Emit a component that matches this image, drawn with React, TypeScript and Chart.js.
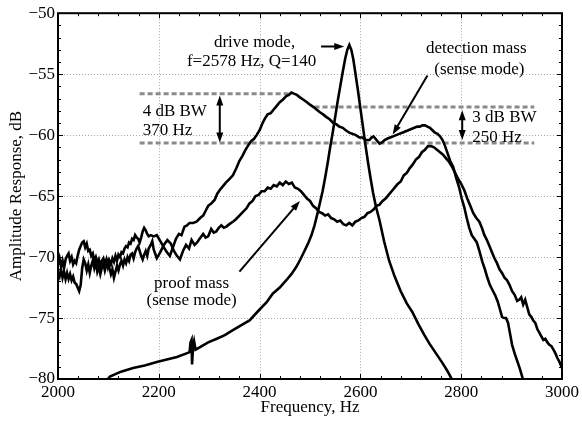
import React, { useEffect, useRef } from "react";
import { Chart, registerables } from "chart.js";
Chart.register(...registerables);

const xTicks = [2000, 2200, 2400, 2600, 2800, 3000];
const yTicks = [-80, -75, -70, -65, -60, -55, -50];

const driveFreq = [2095, 2103, 2125, 2149, 2172, 2196, 2216, 2236, 2255, 2261, 2263, 2265, 2266, 2268, 2270, 2273, 2281, 2298, 2315, 2331, 2347, 2363, 2380, 2400, 2414, 2426, 2440, 2453, 2463, 2473, 2482, 2489, 2496, 2503, 2509, 2515, 2520, 2525, 2530, 2535, 2540, 2545, 2550, 2555, 2560, 2565, 2570, 2574, 2578, 2582, 2586, 2590, 2595, 2600, 2605, 2610, 2615, 2620, 2625, 2631, 2638, 2647, 2657, 2668, 2680, 2692, 2703, 2715, 2727, 2737, 2750, 2763, 2772, 2784];
const driveDb = [-80.2, -79.8, -79.4, -79.1, -78.9, -78.6, -78.4, -78.2, -77.9, -77.8, -77.0, -76.8, -78.8, -77.3, -76.9, -77.6, -77.4, -77.0, -76.7, -76.4, -76.0, -75.6, -75.2, -74.3, -73.7, -73.0, -72.5, -71.9, -71.4, -70.8, -70.1, -69.5, -68.9, -68.2, -67.4, -66.4, -65.5, -64.6, -63.5, -62.3, -61.0, -59.8, -58.5, -57.2, -56.0, -54.8, -53.7, -53.0, -52.6, -53.0, -53.8, -54.9, -56.3, -57.8, -59.3, -60.8, -62.2, -63.5, -64.7, -65.9, -67.0, -68.7, -70.3, -71.6, -72.8, -73.8, -74.5, -75.5, -76.4, -77.1, -77.9, -78.7, -79.3, -80.2];

const detFreq = [2000, 2003, 2006, 2009, 2012, 2015, 2018, 2021, 2024, 2027, 2030, 2033, 2036, 2039, 2042, 2045, 2048, 2051, 2054, 2057, 2060, 2063, 2066, 2069, 2072, 2075, 2078, 2081, 2084, 2087, 2090, 2093, 2096, 2099, 2102, 2105, 2108, 2111, 2114, 2117, 2120, 2123, 2126, 2129, 2132, 2135, 2138, 2141, 2144, 2147, 2150, 2153, 2156, 2159, 2162, 2165, 2168, 2171, 2174, 2177, 2180,
  2184, 2190, 2196, 2203, 2210, 2216, 2222, 2228, 2234, 2240, 2245, 2251, 2256, 2261, 2268, 2275, 2282, 2288, 2293, 2298, 2304, 2311, 2316, 2321, 2327, 2333, 2340, 2347, 2354, 2360, 2366, 2372, 2378, 2383, 2389, 2394, 2400,
  2406, 2411, 2416, 2422, 2428, 2434, 2440, 2446, 2453, 2458, 2463, 2468, 2474, 2480, 2487, 2494, 2500, 2507, 2513, 2519, 2526, 2532, 2539, 2546, 2552, 2558, 2565, 2571, 2578, 2585, 2591, 2598, 2604, 2611, 2618,
  2622, 2626, 2630, 2634, 2638, 2643, 2648, 2653, 2659,
  2665, 2671, 2677, 2683, 2689, 2695, 2701, 2707, 2713,
  2718, 2723, 2728, 2733, 2738, 2743, 2748, 2753, 2758, 2763, 2768, 2773, 2778,
  2784, 2790, 2796, 2801, 2806, 2811, 2816, 2821, 2826, 2831, 2836,
  2842, 2847, 2852, 2857, 2862, 2867, 2872, 2877,
  2881, 2885, 2889, 2893, 2897, 2901, 2906, 2911, 2916, 2921, 2925];
const detDb = [-70.6, -70.1, -70.8, -70.3, -70.9, -70.2, -69.9, -69.7, -70.3, -70.0, -70.6, -70.3, -70.5, -69.9, -69.4, -69.1, -68.8, -68.7, -69.2, -68.9, -69.5, -69.4, -69.9, -69.7, -70.3, -70.0, -70.5, -70.2, -70.7, -70.3, -70.1, -70.6, -70.2, -70.8, -70.3, -70.6, -70.1, -70.4, -69.9, -70.3, -69.8, -70.0, -69.6, -69.7, -69.3, -69.1, -69.2, -68.8, -68.9, -68.5, -68.6, -68.2, -68.4, -68.5, -68.8, -68.4, -67.9, -67.6, -67.8, -68.1, -68.3,
  -68.2, -68.3, -68.2, -68.7, -69.2, -69.6, -69.9, -69.2, -68.5, -68.1, -68.2, -67.5, -67.4, -67.2, -67.2, -67.1, -66.8, -66.6, -66.2, -65.8, -65.6, -65.3, -64.8, -64.5, -64.2, -63.9, -63.6, -63.3, -62.7, -62.1, -61.7, -61.2, -60.8, -60.5, -60.3, -60.0, -59.6,
  -59.0, -58.6, -58.3, -58.2, -57.9, -57.6, -57.3, -57.1, -56.8, -56.7, -56.5, -56.6, -56.7, -56.9, -57.1, -57.3, -57.5, -57.7, -57.9, -58.1, -58.3, -58.5, -58.7, -59.0, -59.1, -59.3, -59.4, -59.6, -59.8, -59.9, -60.0, -60.2, -60.2, -60.4, -60.4,
  -60.2, -60.1, -60.3, -60.5, -60.7, -60.6, -60.4, -60.3, -60.2,
  -60.1, -60.0, -59.9, -59.8, -59.7, -59.6, -59.5, -59.4, -59.3,
  -59.3, -59.2, -59.2, -59.3, -59.4, -59.6, -59.8, -59.9, -60.1, -60.4, -60.9, -61.5, -62.1,
  -62.6, -63.5, -64.3, -65.2, -65.9, -66.8, -67.6, -68.2, -68.5, -68.8, -69.5,
  -70.4, -71.0, -71.7, -72.3, -72.7, -73.1, -73.6, -74.3,
  -74.9, -75.0, -75.0, -75.4, -76.3, -77.2, -77.9, -78.5, -79.1, -79.8, -80.3];

const proofFreq = [2000, 2003, 2006, 2009, 2012, 2015, 2018, 2021, 2024, 2027, 2030, 2033, 2036, 2039, 2042, 2045, 2048, 2051, 2054, 2057, 2060, 2063, 2066, 2069, 2072, 2075, 2078, 2081, 2084, 2087, 2090, 2093, 2096, 2099, 2102, 2105, 2108, 2111, 2114, 2117, 2120, 2123, 2126, 2129, 2132, 2135, 2138, 2141, 2144, 2147, 2150, 2153, 2156, 2159, 2162, 2165, 2168, 2171, 2174, 2177, 2180, 2184, 2187, 2190,
  2196, 2203, 2210, 2217, 2224, 2230, 2236, 2242, 2248, 2254, 2260, 2265, 2271, 2276, 2281, 2288, 2293, 2298, 2304, 2309, 2314, 2319, 2324, 2329, 2334, 2340, 2347, 2353, 2360, 2367, 2374, 2380,
  2386, 2392, 2398, 2404, 2410, 2416, 2422, 2428, 2434, 2440, 2446, 2452, 2458, 2464, 2470, 2476, 2482, 2488, 2494, 2500, 2506, 2512, 2518, 2524, 2530, 2536, 2542, 2548, 2554, 2560, 2566, 2572, 2578, 2584, 2590, 2596, 2602, 2608, 2614, 2620, 2626, 2632, 2638, 2644, 2650, 2656, 2662, 2668, 2674, 2680, 2686, 2692, 2698, 2704, 2710, 2716, 2722, 2728, 2734, 2740, 2746, 2752, 2758, 2764, 2770, 2776, 2782, 2788, 2794, 2800, 2806, 2812, 2818, 2824, 2830, 2836,
  2841, 2846, 2851, 2856, 2861, 2866, 2871, 2876, 2881, 2886, 2891, 2896, 2901, 2906, 2911,
  2915, 2919, 2923, 2927, 2931, 2935, 2939, 2943, 2947, 2951, 2955, 2959, 2963, 2967, 2971, 2975, 2979, 2983, 2987, 2991, 2995, 3000];
const proofDb = [-71.3, -71.6, -71.0, -71.7, -71.2, -71.8, -71.3, -71.8, -71.4, -71.9, -71.6, -72.1, -72.2, -72.5, -72.8, -72.3, -70.9, -70.2, -70.5, -71.1, -70.6, -71.3, -70.7, -70.3, -70.9, -70.4, -71.2, -70.8, -71.4, -70.9, -70.5, -71.1, -70.6, -70.3, -70.9, -71.4, -71.0, -71.7, -71.2, -70.7, -71.1, -70.6, -70.3, -70.7, -70.2, -70.5, -70.0, -70.3, -69.8, -69.7, -70.1, -69.6, -69.3, -69.1, -69.5, -69.9, -70.2, -69.8, -69.5, -69.9, -69.3, -69.0, -68.7, -69.4,
  -70.1, -69.6, -69.0, -68.6, -68.9, -69.5, -69.9, -70.2, -69.5, -69.0, -69.3, -68.6, -69.0, -68.8, -68.5, -68.1, -68.4, -68.3, -67.7, -68.0, -67.9, -67.6, -67.4, -67.6, -67.5, -67.3, -67.1, -66.9, -66.6, -66.3, -66.0, -65.6,
  -65.4, -65.0, -64.9, -64.6, -64.6, -64.3, -64.4, -64.1, -64.2, -63.9, -64.1, -63.8, -64.0, -63.9, -64.3, -64.4, -64.6, -64.9, -65.2, -65.4, -65.8, -66.0, -66.3, -66.4, -66.6, -66.5, -66.8, -66.9, -67.1, -67.0, -67.3, -67.4, -67.2, -67.4, -67.1, -67.0, -66.8, -66.7, -66.4, -66.3, -66.1, -65.8, -65.7, -65.4, -65.2, -64.9, -64.6, -64.3, -64.0, -63.8, -63.3, -63.1, -62.7, -62.4, -62.0, -61.8, -61.4, -61.2, -60.9, -60.9, -61.0, -61.2, -61.4, -61.6, -61.9, -62.2, -62.6, -63.1, -63.6, -64.0, -64.5, -65.2, -65.8, -66.4, -66.8, -67.1,
  -67.6, -68.2, -68.6, -69.1, -69.6, -70.1, -70.5, -71.0, -71.3, -71.7, -71.9, -72.3, -72.8, -73.1, -73.6,
  -73.5, -73.3, -73.9, -73.5, -74.1, -74.7, -74.9, -75.2, -75.4, -75.9, -76.2, -76.5, -76.8, -76.7, -77.0, -77.2, -77.3, -77.6, -77.9, -78.3, -78.6, -79.1];

// annotation geometry, in data units [f1, f2, dB]
const bwLines = [
  [2162, 2463, -56.6],
  [2162, 2945, -60.65],
  [2509, 2945, -57.7],
];
// arrows [fFrom, dbFrom, fTo, dbTo, doubleHeaded]
const arrows = [
  [2522, -52.73, 2568, -52.73, 0],
  [2733, -55.1, 2664, -59.95, 0],
  [2360, -71.2, 2480, -65.4, 0],
  [2321, -56.75, 2321, -60.6, 1],
  [2802, -57.95, 2802, -60.4, 1],
];
// labels [text, f, dB, align]
const labels: [string, number, number, CanvasTextAlign][] = [
  ["drive mode,", 2390, -52.76, "center"],
  ["f=2578 Hz, Q=140", 2384, -54.3, "center"],
  ["detection mass", 2830, -53.3, "center"],
  ["(sense mode)", 2836, -55.0, "center"],
  ["4 dB BW", 2168, -58.4, "left"],
  ["370 Hz", 2168, -60.0, "left"],
  ["3 dB BW", 2822, -58.95, "left"],
  ["250 Hz", 2822, -60.57, "left"],
  ["proof mass", 2265, -72.57, "center"],
  ["(sense mode)", 2265, -73.9, "center"],
];

const FONT = '"Liberation Serif", "Times New Roman", serif';

export default function App() {
  const ref = useRef<HTMLCanvasElement>(null);
  useEffect(() => {
    document.body.style.margin = "0";
    const pts = (f: number[], d: number[]) => f.map((x, i) => ({ x, y: d[i] }));

    const deco = {
      id: "deco",
      beforeDatasetsDraw(chart: any) {
        const { ctx, chartArea: a, scales } = chart;
        const xs = scales.x, ys = scales.y;
        ctx.save();
        ctx.strokeStyle = "#a8a8a8";
        ctx.lineWidth = 1;
        ctx.setLineDash([1, 2]);
        xTicks.slice(1, -1).forEach((v) => {
          const p = Math.round(xs.getPixelForValue(v)) + 0.5;
          ctx.beginPath(); ctx.moveTo(p, a.top); ctx.lineTo(p, a.bottom); ctx.stroke();
        });
        yTicks.slice(1, -1).forEach((v) => {
          const p = Math.round(ys.getPixelForValue(v)) + 0.5;
          ctx.beginPath(); ctx.moveTo(a.left, p); ctx.lineTo(a.right, p); ctx.stroke();
        });
        ctx.strokeStyle = "#8a8a8a";
        ctx.lineWidth = 3;
        ctx.setLineDash([5, 3]);
        bwLines.forEach(([f1, f2, d]) => {
          const y = ys.getPixelForValue(d);
          ctx.beginPath(); ctx.moveTo(xs.getPixelForValue(f1), y); ctx.lineTo(xs.getPixelForValue(f2), y); ctx.stroke();
        });
        ctx.restore();
      },
      afterDatasetsDraw(chart: any) {
        const { ctx, chartArea: a, scales } = chart;
        const xs = scales.x, ys = scales.y;
        ctx.save();
        ctx.strokeStyle = "#000";
        ctx.fillStyle = "#000";
        ctx.setLineDash([]);
        ctx.lineWidth = 1;
        for (let v = 2000; v <= 3000; v += 40) {
          const p = Math.round(xs.getPixelForValue(v)) + 0.5;
          const len = (v - 2000) % 200 === 0 ? 5 : 3;
          ctx.beginPath();
          ctx.moveTo(p, a.bottom); ctx.lineTo(p, a.bottom - len);
          ctx.moveTo(p, a.top); ctx.lineTo(p, a.top + len);
          ctx.stroke();
        }
        for (let v = -80; v <= -50; v += 1) {
          const p = Math.round(ys.getPixelForValue(v)) + 0.5;
          const len = v % 5 === 0 ? 5 : 3;
          ctx.beginPath();
          ctx.moveTo(a.left, p); ctx.lineTo(a.left + len, p);
          ctx.moveTo(a.right, p); ctx.lineTo(a.right - len, p);
          ctx.stroke();
        }
        ctx.lineWidth = 2;
        ctx.strokeRect(a.left, a.top, a.right - a.left, a.bottom - a.top);
        const head = (x1: number, y1: number, x2: number, y2: number) => {
          const ang = Math.atan2(y2 - y1, x2 - x1);
          const L = 10, W = 3.5;
          ctx.beginPath();
          ctx.moveTo(x2, y2);
          ctx.lineTo(x2 - L * Math.cos(ang) + W * Math.sin(ang), y2 - L * Math.sin(ang) - W * Math.cos(ang));
          ctx.lineTo(x2 - L * Math.cos(ang) - W * Math.sin(ang), y2 - L * Math.sin(ang) + W * Math.cos(ang));
          ctx.closePath();
          ctx.fill();
        };
        ctx.lineWidth = 2;
        arrows.forEach(([f1, d1, f2, d2, dbl]) => {
          const x1 = xs.getPixelForValue(f1), y1 = ys.getPixelForValue(d1);
          const x2 = xs.getPixelForValue(f2), y2 = ys.getPixelForValue(d2);
          const ang = Math.atan2(y2 - y1, x2 - x1);
          const sx = dbl ? x1 + 6 * Math.cos(ang) : x1, sy = dbl ? y1 + 6 * Math.sin(ang) : y1;
          ctx.beginPath();
          ctx.moveTo(sx, sy);
          ctx.lineTo(x2 - 6 * Math.cos(ang), y2 - 6 * Math.sin(ang));
          ctx.stroke();
          head(x1, y1, x2, y2);
          if (dbl) head(x2, y2, x1, y1);
        });
        ctx.font = `17px ${FONT}`;
        ctx.textBaseline = "alphabetic";
        labels.forEach(([t, f, d, al]) => {
          ctx.textAlign = al;
          ctx.fillText(t, xs.getPixelForValue(f), ys.getPixelForValue(d));
        });
        ctx.restore();
      },
    };

    const line = (f: number[], d: number[]) => ({
      data: pts(f, d),
      borderColor: "#000",
      borderWidth: 2.6,
      pointRadius: 0,
      fill: false,
      tension: 0,
    });

    const chart = new Chart(ref.current as HTMLCanvasElement, {
      type: "line",
      data: {
        datasets: [line(proofFreq, proofDb), line(detFreq, detDb), line(driveFreq, driveDb)],
      },
      options: {
        animation: false,
        responsive: false,
        devicePixelRatio: 1,
        layout: { padding: { top: 9, right: 19, left: 0, bottom: 0 } },
        plugins: { legend: { display: false }, tooltip: { enabled: false } },
        scales: {
          x: {
            type: "linear",
            min: 2000,
            max: 3000,
            grid: { display: false, drawTicks: false },
            border: { display: false },
            afterBuildTicks: (s: any) => { s.ticks = xTicks.map((v) => ({ value: v })); },
            afterFit: (s: any) => { s.height = 43; },
            ticks: {
              color: "#000",
              font: { family: FONT, size: 17 },
              padding: 3,
              maxRotation: 0,
              autoSkip: false,
              callback: (v: any) => String(v),
            },
            title: {
              display: true,
              text: "Frequency, Hz",
              color: "#000",
              font: { family: FONT, size: 17 },
              padding: { top: 0, bottom: 4 },
            },
          },
          y: {
            type: "linear",
            min: -80,
            max: -50,
            grid: { display: false, drawTicks: false },
            border: { display: false },
            afterBuildTicks: (s: any) => { s.ticks = yTicks.map((v) => ({ value: v })); },
            afterFit: (s: any) => { s.width = 58; },
            ticks: {
              color: "#000",
              font: { family: FONT, size: 17 },
              padding: 3,
              autoSkip: false,
              callback: (v: any) => (v < 0 ? "\u2212" + Math.abs(v) : String(v)),
            },
            title: {
              display: true,
              text: "Amplitude Response, dB",
              color: "#000",
              font: { family: FONT, size: 17 },
              padding: { top: 6, bottom: 0 },
            },
          },
        },
      },
      plugins: [deco],
    } as any);
    return () => chart.destroy();
  }, []);
  return <canvas ref={ref} width={582} height={422} style={{ display: "block" }} />;
}
